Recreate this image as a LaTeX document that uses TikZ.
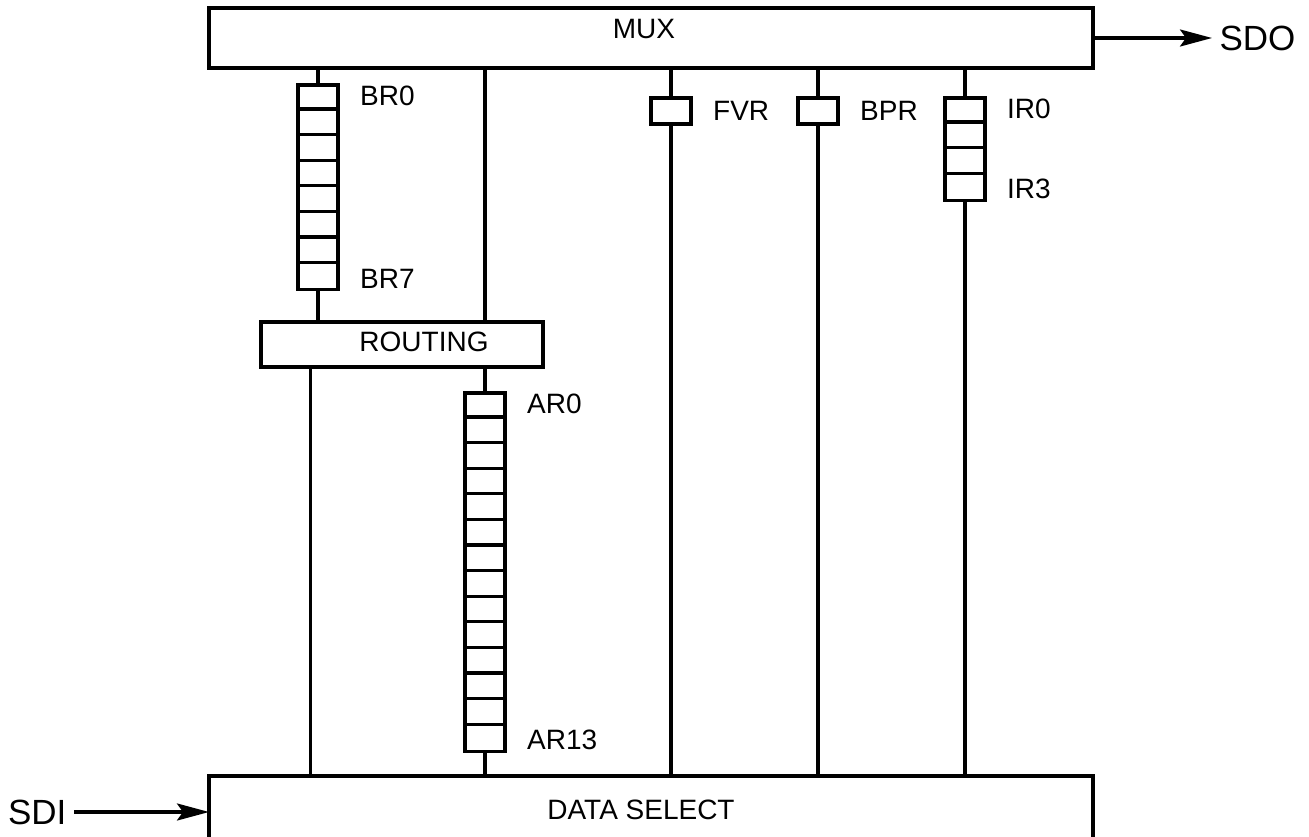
\documentclass[tikz,border=0pt]{standalone}
\usepackage{fontspec}
\setmainfont{Liberation Sans}
\usetikzlibrary{positioning,arrows.meta}
\tikzset{reg/.style={draw, rectangle, minimum width=40pt, inner sep=0pt}}

\begin{document}
\begin{tikzpicture}[
  x=1pt, y=-1pt,
  line width=3.2pt,
  bus/.style={rectangle, draw, inner sep=0pt, minimum height=60pt},
  lbl/.style={font=\fontsize{28}{32}\selectfont, inner sep=0pt},
  pinlbl/.style={font=\fontsize{35}{40}\selectfont, inner sep=6pt},
  cell/.style={lbl, anchor=west},
  arr/.style={-{Stealth[length=32pt, width=17pt, inset=6pt]}},
]
  \useasboundingbox (0,0) rectangle (1309,837);

  % Busses
  \node[bus, minimum width=884pt] (mux) at (651,38) {};
  \node[lbl] (muxtxt) at ([xshift=-7pt, yshift=9pt]mux.center) {MUX};
  \node[bus, draw=none, outer sep=0pt, minimum width=884pt, minimum height=61pt] (ds) at (651,806.5) {};
  \node[lbl] (dstxt) at ([xshift=-10pt, yshift=-3.5pt]ds.center) {DATA SELECT};
  \draw (ds.south west) |- (ds.north) -| (ds.south east);
  \node[bus, minimum width=282pt, minimum height=45pt] (rt) at (402,344.5) {};
  \node[lbl] (rttxt) at ([xshift=22pt, yshift=2.5pt]rt.center) {ROUTING};

  % Registers
  \node[reg, minimum height=204.8pt] (br) at (318,187.4) {};
  \node[reg, minimum height=358.4pt] (ar) at (485,572.2) {};
  \node[reg, minimum height=26pt] (fvr) at (671,111) {};
  \node[reg, minimum height=26pt] (bpr) at (818,111) {};
  \node[reg, minimum height=102.4pt] (ir) at (965,149.2) {};
  \foreach \i in {1,...,7}
    \draw ([yshift=-\i*25.6pt]br.north west) -- ([yshift=-\i*25.6pt]br.north east);
  \foreach \i in {1,...,13}
    \draw ([yshift=-\i*25.6pt]ar.north west) -- ([yshift=-\i*25.6pt]ar.north east);
  \foreach \i in {1,...,3}
    \draw ([yshift=-\i*25.6pt]ir.north west) -- ([yshift=-\i*25.6pt]ir.north east);

  \node[cell] (br0) at ([xshift=19pt, yshift=-12.8pt]br.north east) {BR0};
  \node[cell] (br7) at ([xshift=19pt, yshift=12.8pt]br.south east) {BR7};
  \node[cell] (ar0) at ([xshift=19pt, yshift=-12.8pt]ar.north east) {AR0};
  \node[cell] (ar13) at ([xshift=19pt, yshift=12.8pt]ar.south east) {AR13};
  \node[cell] (ir0) at ([xshift=19pt, yshift=-12.8pt]ir.north east) {IR0};
  \node[cell] (ir3) at ([xshift=19pt, yshift=12.8pt]ir.south east) {IR3};
  \node[cell, right=19pt of fvr] (fvrtxt) {FVR};
  \node[cell, right=19pt of bpr] (bprtxt) {BPR};

  % Wiring
  \draw (mux.south -| br.north) -- (br.north);
  \draw (br.south) -- (br.south |- rt.north);
  \draw (mux.south -| ar.north) -- (ar.north |- rt.north);
  \draw (ar.north |- rt.south) -- (ar.north);
  \draw (ar.south) -- (ar.south |- ds.north);
  \draw ([xshift=51pt]rt.south west) -- ([xshift=51pt]rt.south west |- ds.north);
  \foreach \r in {fvr,bpr,ir} {
    \draw (mux.south -| \r.north) -- (\r.north);
    \draw (\r.south) -- (\r.south |- ds.north);
  }

  % Serial in / out
  \node[pinlbl, anchor=west] (sdo) at (1212,38) {SDO};
  \node[pinlbl, anchor=east] (sdi) at (74,812) {SDI};
  \draw[arr] (mux.east) -- (mux.east -| sdo.west);
  \draw[arr] (sdi.east) -- (sdi.east -| ds.west);
\end{tikzpicture}
\end{document}
